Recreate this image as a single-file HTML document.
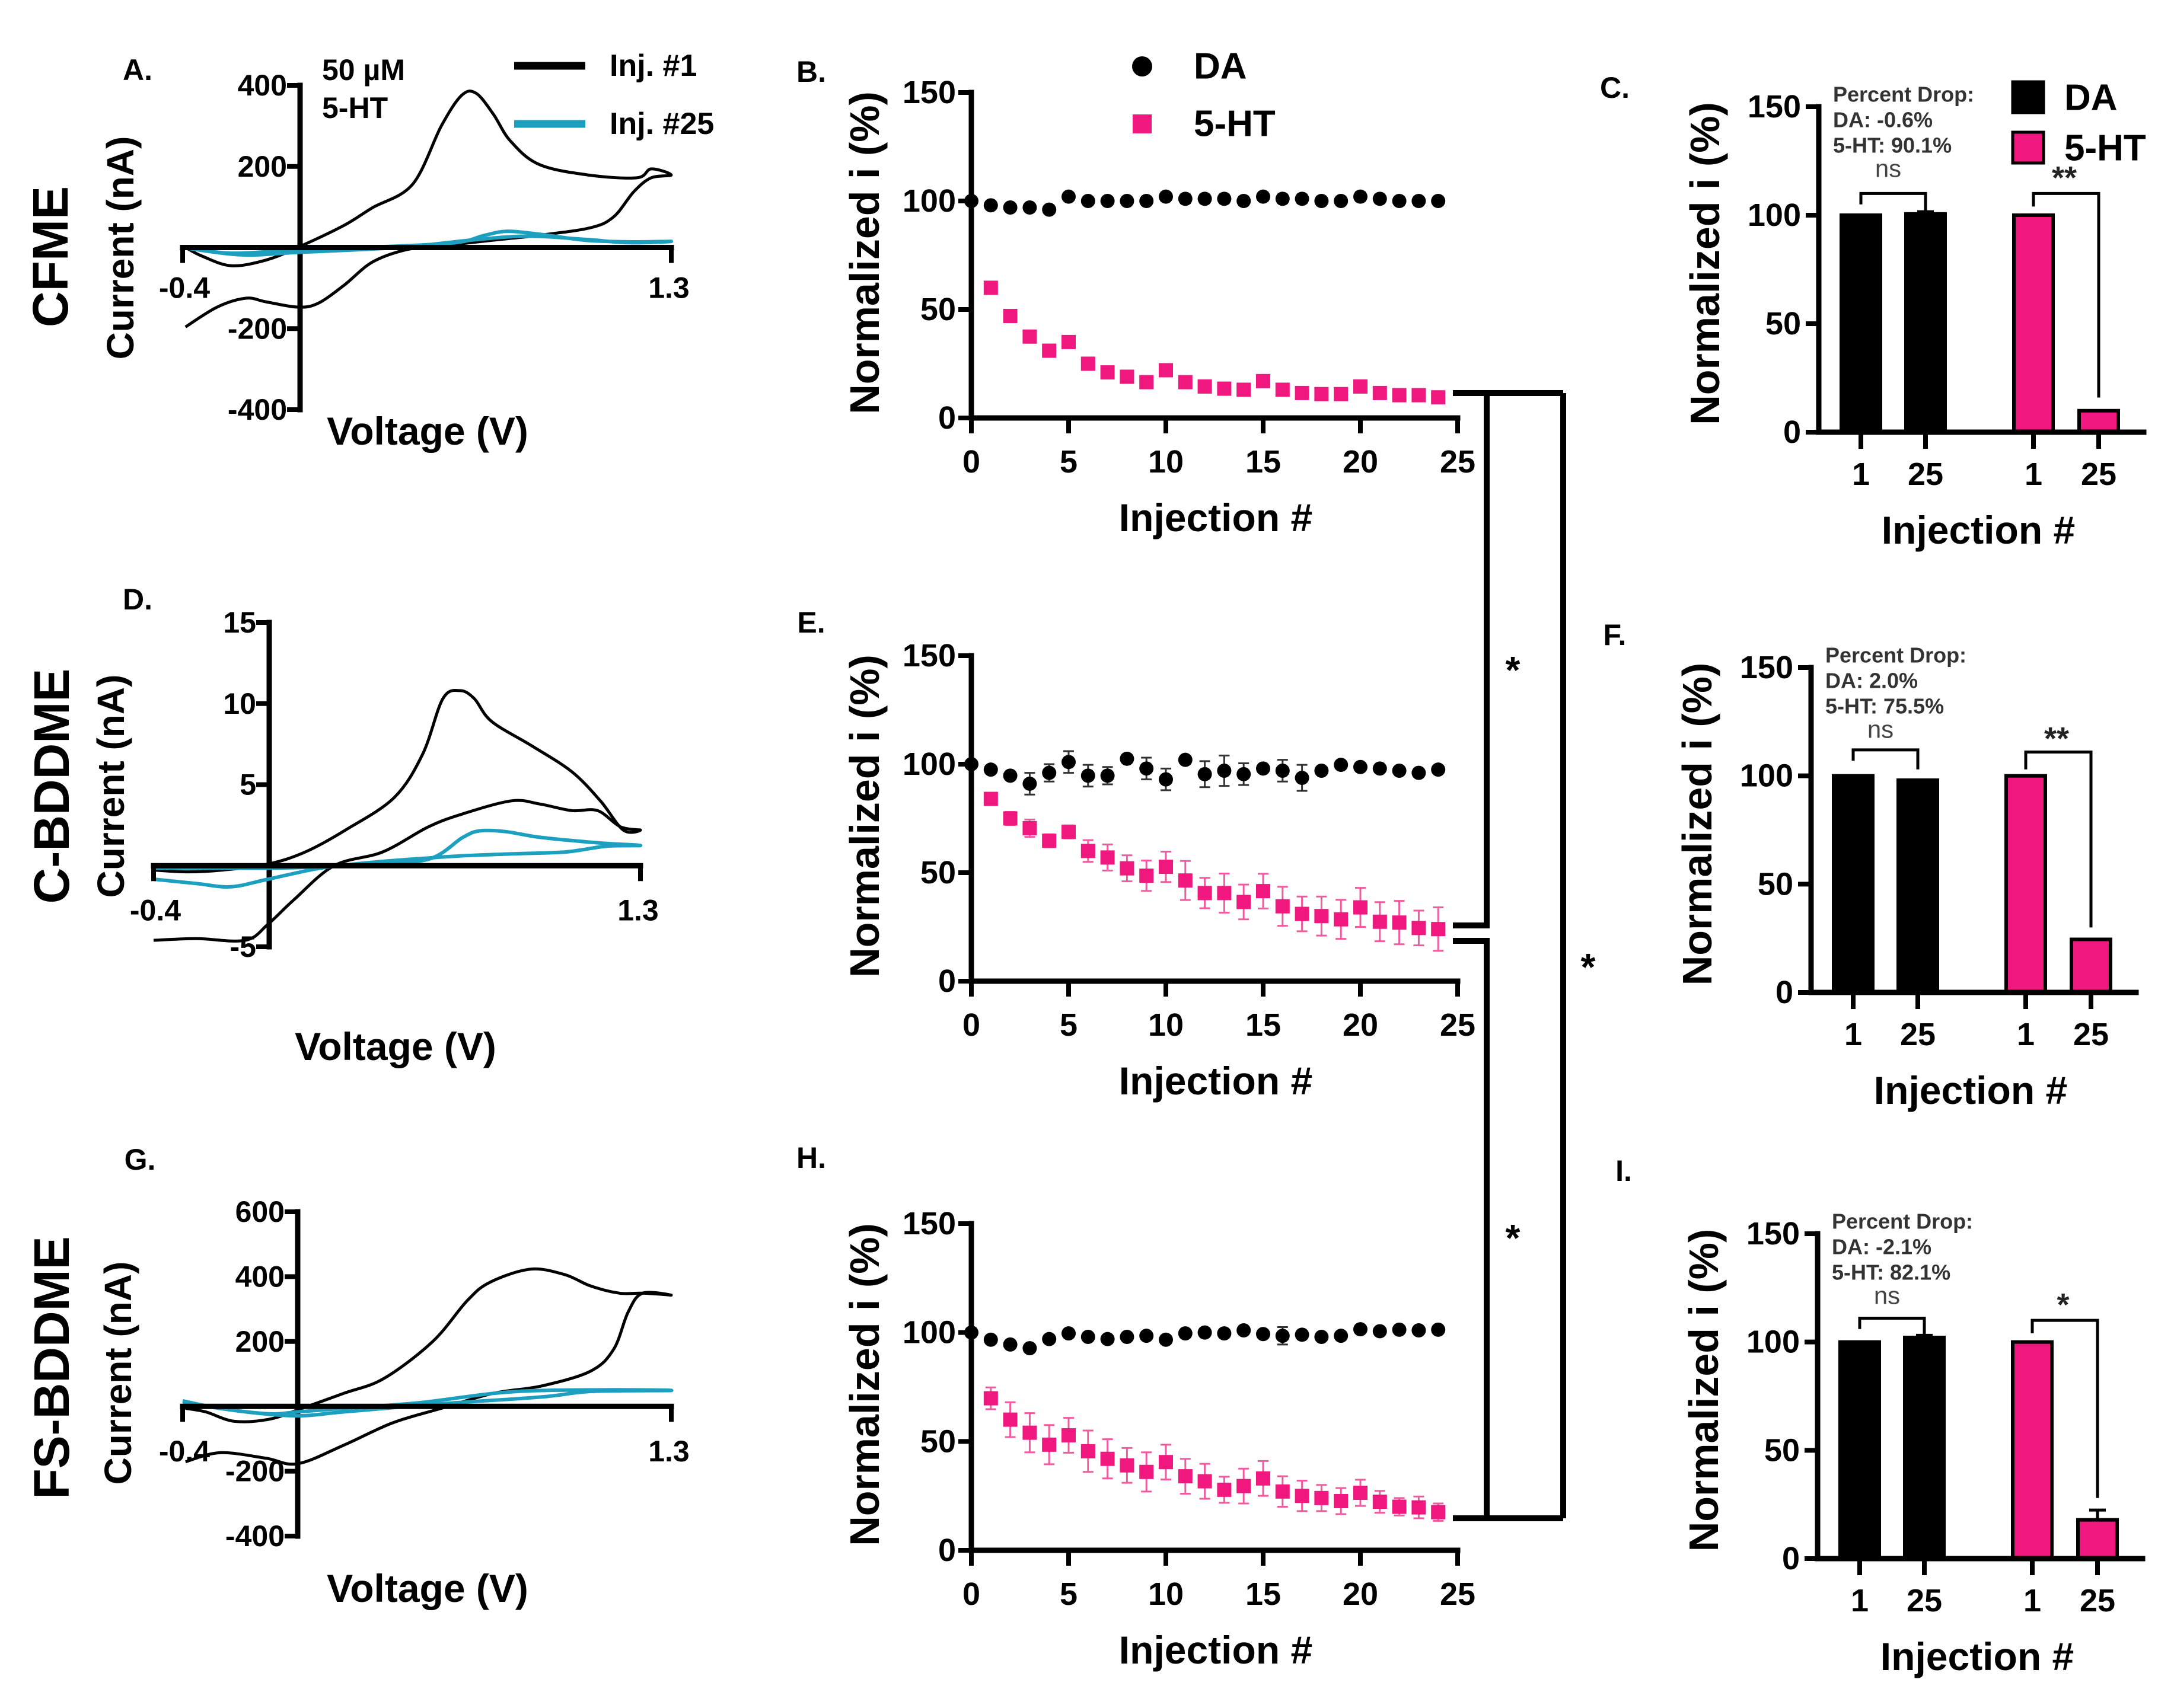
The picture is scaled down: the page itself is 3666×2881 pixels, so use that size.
<!DOCTYPE html>
<html><head><meta charset="utf-8">
<style>
html,body{margin:0;padding:0;background:#fff;}
svg{display:block;}
text{font-family:"Liberation Sans",Arial,sans-serif;}
</style></head>
<body>
<svg id="fig" width="3666" height="2881" viewBox="0 0 3666 2881" xmlns="http://www.w3.org/2000/svg"></svg>
<script>
// ---------- DATA ----------
const injections = [0,1,2,3,4,5,6,7,8,9,10,11,12,13,14,15,16,17,18,19,20,21,22,23,24];
const bDA    = [100,98,97,97,96,102,100,100,100,100,102,101,101,101,100,102,101,101,100,100,102,101,100,100,100];
const bDAerr = [0,1,1,1,1,1,1,1,1,2,2,2,2,2,2,2,2,2,2,2,2,2,2,2,2];
const b5HT   = [100,60,47,37.5,31,35,25,21,19,16.5,22,16.5,14.5,13.5,13,17,13,11.5,11,11,14.5,11.5,10.5,10.5,9.5];
const b5HTerr= [0,1,1,1,1,1,1,1,1,1,1,1,1,1,1,1,1,1,1,1,1,1,1,1,1];
const eDA    = [100,97.5,94.7,91,96,101,94.7,94.7,102.5,98,93,102,95.4,97,95.4,98,97,93.7,97,99.7,98.7,98,97,96,97.5];
const eDAerr = [0,1,1,5,4,5,5,4,1,5,5,1,6,7,5,1,5,6,1,1,1,1,1,1,1];
const e5HT   = [100,84,75,70.5,64.7,68.8,60,57,52,48.6,52.7,46.4,40.6,40.6,36.5,41.5,34.5,31,30,28.5,34,27.4,27,24.5,24];
const e5HTerr= [0,2,3,4,3,3,5,6,6,7,7,9,7,9,8,8,9,8,9,9,9,9,10,8,10];
const hDA    = [100,96.7,94.5,92.8,97,99.6,98,97,98,98.5,96.7,99.6,100,99.6,101,99.3,98.5,99,98,98.5,101.5,100.6,101.3,101,101.3];
const hDAerr = [0,1,1,1,1,1,1,1,1,1,1,1,1,1,1,1,4,1,1,1,1,1,1,1,1];
const h5HT   = [100,69.8,60,54,48.5,52.8,45.5,42,39,36,40.5,34,31.7,27.8,29.5,33,27,25,24,22.6,26.4,22.3,20,19.7,17.5];
const h5HTerr= [0,5,8,9,9,8,9.5,9,8,9,8,8,8,6,8,8,7,7,6,6,6,5,4,5,4];

const barCategories = ["DA 1","DA 25","5-HT 1","5-HT 25"];
const barTickLabels = ["1","25","1","25"];
const cValues = [100,100.6,100,9.9];
const cErr    = [0,1,0,0];
const fValues = [100,98,100,24.5];
const fErr    = [0,0,0,0.5];
const iValues = [100,102.1,100,17.9];
const iErr    = [0,1,0,4.5];

const aInj1V  = [-0.39,-0.33,-0.23,-0.11,0,0.16,0.26,0.4,0.5,0.57,0.62,0.68,0.74,0.84,1.01,1.18,1.23,1.3,1.23,1.17,1.1,1.02,0.85,0.68,0.5,0.38,0.26,0.16,0.07,0,-0.11,-0.18,-0.28,-0.39];
const aInj1I  = [0,-22,-45,-31,0,54,98,156,300,375,381,330,263,205,179,172,194,179,172,138,76,49,31,18,4,-5,-36,-94,-138,-147,-134,-125,-147,-196];
const aInj25V = [-0.4,-0.3,-0.2,0,0.3,0.55,0.65,0.73,0.85,1.0,1.15,1.3,1.15,1.0,0.8,0.6,0.35,0,-0.2,-0.4];
const aInj25I = [0,-10,-14,-6,2,12,30,40,32,18,14,15,12,20,28,18,0,-12,-18,0];
const dInj1V  = [-0.4,-0.25,-0.08,0,0.09,0.23,0.4,0.56,0.68,0.85,0.95,1.06,1.15,1.23,1.3,1.24,1.16,1.06,0.92,0.78,0.72,0.67,0.61,0.54,0.44,0.27,0.13,0,-0.16,-0.28,-0.4];
const dInj1I  = [-4.6,-4.5,-4.6,-3.6,-2.1,0,0.85,2.4,3.2,4.0,3.8,3.4,3.4,2.4,2.2,2.2,4.0,5.8,7.4,8.9,10.3,10.8,10.3,6.9,4.2,2.2,0.85,0.1,-0.27,-0.38,-0.27];
const dInj25V = [-0.4,-0.25,-0.13,0,0.18,0.37,0.54,0.7,0.87,1.04,1.18,1.3,1.16,0.95,0.83,0.74,0.68,0.56,0.35,0.13,0,-0.16,-0.4];
const dInj25I = [-0.83,-1.1,-1.3,-0.83,-0.16,0.22,0.45,0.63,0.74,0.85,1.2,1.25,1.4,1.75,2.1,2.15,1.75,0.4,0.07,-0.1,-0.15,-0.15,-0.15];
const gInj1V  = [-0.39,-0.32,-0.22,-0.1,0,0.16,0.3,0.47,0.59,0.67,0.81,0.93,1.02,1.12,1.2,1.3,1.2,1.15,1.1,1.02,0.85,0.68,0.5,0.33,0.16,0,-0.11,-0.27,-0.39];
const gInj1I  = [-6,-17,-46,-40,-11,40,86,200,326,383,423,406,371,349,349,343,349,291,177,109,63,40,-6,-51,-120,-177,-160,-143,-171];
const gInj25V = [-0.4,-0.27,-0.1,0,0.16,0.42,0.68,0.85,1.1,1.3,1.02,0.85,0.5,0.16,0,-0.18,-0.4];
const gInj25I = [17,-6,-23,-17,-6,11,40,49,51,49,46,29,8,-17,-29,-17,11];

const cvTicksA = [400,200,-200,-400];
const cvTicksD = [15,10,5,-5];
const cvTicksG = [600,400,200,-200,-400];
const scatterYTicks = [150,100,50,0];
const scatterXTicks = [0,5,10,15,20,25];

// ---------- HELPERS ----------
const NS = "http://www.w3.org/2000/svg";
const svg = document.getElementById("fig");
const PINK = "#f0177f", CYAN = "#1d9fbf";
function mk(tag, attrs, parent){
  const e = document.createElementNS(NS, tag);
  for (const k in attrs) e.setAttribute(k, attrs[k]);
  (parent || svg).appendChild(e);
  return e;
}
function txt(x, y, s, size, anchor, weight, parent, fill){
  const t = mk("text", {x:x, y:y, "font-size":size, "text-anchor":anchor||"middle", "font-weight":weight||"bold", "dominant-baseline":"central", fill: fill||"#000"}, parent);
  t.textContent = s;
  return t;
}
function line(x1,y1,x2,y2,w,parent,col){
  return mk("line",{x1:x1,y1:y1,x2:x2,y2:y2,stroke:col||"#000","stroke-width":w,"stroke-linecap":"square"},parent);
}
function smoothPath(pts){
  let d = "M" + pts[0][0].toFixed(1) + "," + pts[0][1].toFixed(1);
  for (let i=0;i<pts.length-1;i++){
    const p0 = pts[Math.max(0,i-1)], p1 = pts[i], p2 = pts[i+1], p3 = pts[Math.min(pts.length-1,i+2)];
    const c1x = p1[0]+(p2[0]-p0[0])/6, c1y = p1[1]+(p2[1]-p0[1])/6;
    const c2x = p2[0]-(p3[0]-p1[0])/6, c2y = p2[1]-(p3[1]-p1[1])/6;
    d += " C"+c1x.toFixed(1)+","+c1y.toFixed(1)+" "+c2x.toFixed(1)+","+c2y.toFixed(1)+" "+p2[0].toFixed(1)+","+p2[1].toFixed(1);
  }
  return d;
}

// ---------- CV PANELS ----------
function cvPanel(cfg){
  const g = mk("g",{});
  
  
  const sx = v => cfg.x0 + (v+0.4)/1.7*(cfg.x1-cfg.x0);
  const sy = i => cfg.yBot - (i-cfg.ymin)/(cfg.ymax-cfg.ymin)*(cfg.yBot-cfg.yTop);
  const y0 = sy(0);
  // y axis
  const ya = line(cfg.ax, cfg.yTop, cfg.ax, cfg.yBot, 9, g);
  
  
  cfg.ticks.forEach(t => {
    const tk = line(cfg.ax-18, sy(t), cfg.ax, sy(t), 8, g);
    
    
    const tl = txt(cfg.ax-22, sy(t), String(t), 50, "end", "bold", g);
    
    
  });
  // series
  const s1 = mk("path",{d:smoothPath(cfg.v1.map((v,k)=>[sx(v),sy(cfg.i1[k])])),fill:"none",stroke:"#000","stroke-width":5,"stroke-linejoin":"round"},g);
  
  
  const s2 = mk("path",{d:smoothPath(cfg.v25.map((v,k)=>[sx(v),sy(cfg.i25[k])])),fill:"none",stroke:CYAN,"stroke-width":6,"stroke-linejoin":"round"},g);
  
  
  // x axis
  const xa = line(cfg.x0, y0, cfg.x1, y0, 9, g);
  
  
  const xt1 = line(cfg.x0, y0, cfg.x0, y0+22, 8, g);
  
  
  const xt2 = line(cfg.x1, y0, cfg.x1, y0+22, 8, g);
  
  
  const l1 = txt(cfg.x0+3, y0+cfg.xlOff, "-0.4", 50, "middle", "bold", g);
  
  
  const l2 = txt(cfg.x1-4, y0+cfg.xlOff, "1.3", 50, "middle", "bold", g);
  
  
  // labels
  const cur = txt(0, 0, "Current (nA)", 64, "middle", "bold", g);
  cur.setAttribute("transform", "translate("+cfg.curX+","+cfg.curY+") rotate(-90)");
  
  
  const row = txt(0, 0, cfg.row, 84, "middle", "bold", g);
  row.setAttribute("transform", "translate("+cfg.rowX+","+cfg.rowY+") rotate(-90)");
  
  
  const vol = txt(cfg.volX, cfg.volY, "Voltage (V)", 66, "middle", "bold", g);
  
  
  const pl = txt(cfg.letX, cfg.letY, cfg.letter, 50, "middle", "bold", g);
  
  
  return g;
}
cvPanel({name:"panel-a-cv",ax:506,x0:308,x1:1132,ymin:-400,ymax:400,yTop:144,yBot:691,ticks:cvTicksA,v1:aInj1V,i1:aInj1I,v25:aInj25V,i25:aInj25I,xlOff:68,curX:203,curY:418,row:"CFME",rowX:85,rowY:433,volX:721,volY:727,letter:"A.",letX:232,letY:118});
cvPanel({name:"panel-d-cv",ax:454,x0:259,x1:1080,ymin:-5,ymax:15,yTop:1050,yBot:1597,ticks:cvTicksD,v1:dInj1V,i1:dInj1I,v25:dInj25V,i25:dInj25I,xlOff:75,curX:187,curY:1326,row:"C-BDDME",rowX:87,rowY:1326,volX:667,volY:1765,letter:"D.",letX:232,letY:1011});
cvPanel({name:"panel-g-cv",ax:502,x0:308,x1:1132,ymin:-400,ymax:600,yTop:2044,yBot:2591,ticks:cvTicksG,v1:gInj1V,i1:gInj1I,v25:gInj25V,i25:gInj25I,xlOff:76,curX:199,curY:2316,row:"FS-BDDME",rowX:87,rowY:2307,volX:721,volY:2679,letter:"G.",letX:236,letY:1956});

// CV legend (panel A)
const conc = txt(543, 118, "50 µM", 50, "start", "bold");


const conc2 = txt(543, 182, "5-HT", 50, "start", "bold");


const lg1 = line(867, 111, 987, 111, 13);
lg1.setAttribute("stroke-linecap","butt");


const lg1t = txt(1028, 111, "Inj. #1", 52, "start", "bold");


const lg2 = line(867, 209, 987, 209, 13, null, CYAN);
lg2.setAttribute("stroke-linecap","butt");


const lg2t = txt(1028, 209, "Inj. #25", 52, "start", "bold");



// ---------- SCATTER PANELS ----------
function scatterPanel(cfg){
  const g = mk("g",{});
  
  
  const ax = 1638, x25 = 2458;
  const sx = n => ax + n/25*(x25-ax);
  const sy = v => cfg.y0 - v/150*(cfg.y0-cfg.y150);
  // series DA
  injections.forEach((n,k) => {
    if (cfg.daErr[k] > 1.5){
      const eb = mk("path",{d:"M"+(sx(n)-9)+","+sy(cfg.da[k]+cfg.daErr[k])+"h18M"+sx(n)+","+sy(cfg.da[k]+cfg.daErr[k])+"V"+sy(cfg.da[k]-cfg.daErr[k])+"M"+(sx(n)-9)+","+sy(cfg.da[k]-cfg.daErr[k])+"h18",stroke:"#333","stroke-width":3,fill:"none"},g);
      
      
    }
    const c = mk("circle",{cx:sx(n),cy:sy(cfg.da[k]),r:12,fill:"#000"},g);
    
    
  });
  injections.forEach((n,k) => {
    if (n === 0) return;
    if (cfg.htErr[k] > 1.5){
      const eb = mk("path",{d:"M"+(sx(n)-9)+","+sy(cfg.ht[k]+cfg.htErr[k])+"h18M"+sx(n)+","+sy(cfg.ht[k]+cfg.htErr[k])+"V"+sy(cfg.ht[k]-cfg.htErr[k])+"M"+(sx(n)-9)+","+sy(cfg.ht[k]-cfg.htErr[k])+"h18",stroke:"#f25aa0","stroke-width":3,fill:"none"},g);
      
      
    }
    const s = mk("rect",{x:sx(n)-12,y:sy(cfg.ht[k])-12,width:24,height:24,fill:PINK},g);
    
    
  });
  // axes
  const ya = line(ax, cfg.y150, ax, cfg.y0, 9, g);
  
  
  const xa = line(ax, cfg.y0, x25, cfg.y0, 9, g);
  
  
  scatterYTicks.forEach(t => {
    const tk = line(ax-18, sy(t), ax, sy(t), 8, g);
    
    
    const tl = txt(ax-26, sy(t), String(t), 54, "end", "bold", g);
    
    
  });
  scatterXTicks.forEach(t => {
    const tk = line(sx(t), cfg.y0, sx(t), cfg.y0+22, 8, g);
    
    
    const tl = txt(sx(t), cfg.y0+74, String(t), 54, "middle", "bold", g);
    
    
  });
  const yt = txt(0,0,"Normalized i (%)",70,"middle","bold",g);
  yt.setAttribute("transform","translate(1458,"+((cfg.y0+cfg.y150)/2-4)+") rotate(-90)");
  
  
  const xt = txt(2050, cfg.y0+168, "Injection #", 66, "middle", "bold", g);
  
  
  const pl = txt(1368, cfg.letY, cfg.letter, 50, "middle", "bold", g);
  
  
}
scatterPanel({name:"panel-b-scatter",y150:156,y0:705,da:bDA,daErr:bDAerr,ht:b5HT,htErr:b5HTerr,letter:"B.",letY:121});
scatterPanel({name:"panel-e-scatter",y150:1106,y0:1655,da:eDA,daErr:eDAerr,ht:e5HT,htErr:e5HTerr,letter:"E.",letY:1050});
scatterPanel({name:"panel-h-scatter",y150:2064,y0:2615,da:hDA,daErr:hDAerr,ht:h5HT,htErr:h5HTerr,letter:"H.",letY:1953});

// scatter legend (panel B)
const ld = mk("circle",{cx:1926,cy:112,r:17,fill:"#000"});


const ldt = txt(2013, 112, "DA", 62, "start", "bold");


const lh = mk("rect",{x:1910,y:193,width:32,height:32,fill:PINK});


const lht = txt(2013, 209, "5-HT", 62, "start", "bold");



// ---------- BAR PANELS ----------
const barOffsets = [71,180,362,472];
function barPanel(cfg){
  const g = mk("g",{});
  
  
  const ax = cfg.ax;
  const sy = v => cfg.y0 - v/150*(cfg.y0-cfg.y150);
  barCategories.forEach((c,k) => {
    const cx = ax + barOffsets[k];
    if (cfg.err[k] > 0.8){
      const eb = mk("path",{d:"M"+(cx-14)+","+sy(cfg.vals[k]+cfg.err[k])+"h28M"+cx+","+sy(cfg.vals[k]+cfg.err[k])+"V"+sy(cfg.vals[k]),stroke:"#000","stroke-width":5,fill:"none"},g);
      
      
    }
    const r = mk("rect",{x:cx-33,y:sy(cfg.vals[k]),width:66,height:cfg.y0-sy(cfg.vals[k]),fill:k<2?"#000":PINK,stroke:"#000","stroke-width":6},g);
    
    
    const tk = line(cx, cfg.y0, cx, cfg.y0+24, 8, g);
    
    
    const tl = txt(cx, cfg.y0+71, barTickLabels[k], 54, "middle", "bold", g);
    
    
  });
  const ya = line(ax, cfg.y150, ax, cfg.y0, 9, g);
  
  
  const xa = line(ax, cfg.y0, ax+548, cfg.y0, 9, g);
  
  
  scatterYTicks.forEach(t => {
    const tk = line(ax-18, sy(t), ax, sy(t), 8, g);
    
    
    const tl = txt(ax-30, sy(t), String(t), 54, "end", "bold", g);
    
    
  });
  // significance brackets
  const b1 = mk("path",{d:"M"+(ax+barOffsets[0])+","+sy(cfg.ns[1])+"V"+sy(cfg.ns[0])+"H"+(ax+barOffsets[1])+"V"+sy(cfg.ns[2]),stroke:"#000","stroke-width":5,fill:"none"},g);
  
  
  const b2 = mk("path",{d:"M"+(ax+barOffsets[2])+","+sy(cfg.sig[1])+"V"+sy(cfg.sig[0])+"H"+(ax+barOffsets[3])+"V"+sy(cfg.sig[2]),stroke:"#000","stroke-width":5,fill:"none"},g);
  
  
  const nst = txt(ax+117, cfg.y150+104, "ns", 42, "middle", "normal", g, "#444");
  
  
  const st = txt(ax+414, cfg.y150+120, cfg.star, 54, "middle", "bold", g, "#222");
  
  
  const p1 = txt(ax+24, cfg.y150-21, "Percent Drop:", 36, "start", "bold", g, "#333");
  
  
  const p2 = txt(ax+24, cfg.y150+22, cfg.daDrop, 36, "start", "bold", g, "#333");
  
  
  const p3 = txt(ax+24, cfg.y150+65, cfg.htDrop, 36, "start", "bold", g, "#333");
  
  
  const yt = txt(0,0,"Normalized i (%)",70,"middle","bold",g);
  yt.setAttribute("transform","translate("+(ax-192)+","+((cfg.y0+cfg.y150)/2-10)+") rotate(-90)");
  
  
  const xt = txt(ax+269, cfg.y0+165, "Injection #", 66, "middle", "bold", g);
  
  
  const pl = txt(cfg.letX, cfg.letY, cfg.letter, 50, "middle", "bold", g);
  
  
}
barPanel({name:"panel-c-bars",ax:3067,y150:180,y0:729,vals:cValues,err:cErr,ns:[110,105,102],sig:[110,104,16],star:"**",daDrop:"DA: -0.6%",htDrop:"5-HT: 90.1%",letter:"C.",letX:2723,letY:148});
barPanel({name:"panel-f-bars",ax:3054,y150:1126,y0:1674,vals:fValues,err:fErr,ns:[112,107,103],sig:[111,103,30],star:"**",daDrop:"DA: 2.0%",htDrop:"5-HT: 75.5%",letter:"F.",letX:2723,letY:1071});
barPanel({name:"panel-i-bars",ax:3065,y150:2081,y0:2629,vals:iValues,err:iErr,ns:[111,106,103],sig:[110,104,28],star:"*",daDrop:"DA: -2.1%",htDrop:"5-HT: 82.1%",letter:"I.",letX:2738,letY:1975});

// bar legend (panel C)
const cl1 = mk("rect",{x:3394,y:138,width:52,height:52,fill:"#000",stroke:"#000","stroke-width":5});


const cl1t = txt(3481, 165, "DA", 62, "start", "bold");


const cl2 = mk("rect",{x:3394,y:223,width:52,height:52,fill:PINK,stroke:"#000","stroke-width":5});


const cl2t = txt(3481, 250, "5-HT", 62, "start", "bold");



// ---------- CROSS-PANEL BRACKETS ----------
const br1 = mk("path",{d:"M2450,663H2636M2507,663V1561H2450",stroke:"#000","stroke-width":10,fill:"none"});


const br2 = mk("path",{d:"M2450,1587H2507V2561M2450,2561H2636",stroke:"#000","stroke-width":10,fill:"none"});


const br3 = mk("path",{d:"M2636,663V2561",stroke:"#000","stroke-width":10,fill:"none"});


const s1 = txt(2551, 1130, "*", 64, "middle", "bold");


const s2 = txt(2551, 2088, "*", 64, "middle", "bold");


const s3 = txt(2678, 1631, "*", 64, "middle", "bold");


</script>
</body></html>
